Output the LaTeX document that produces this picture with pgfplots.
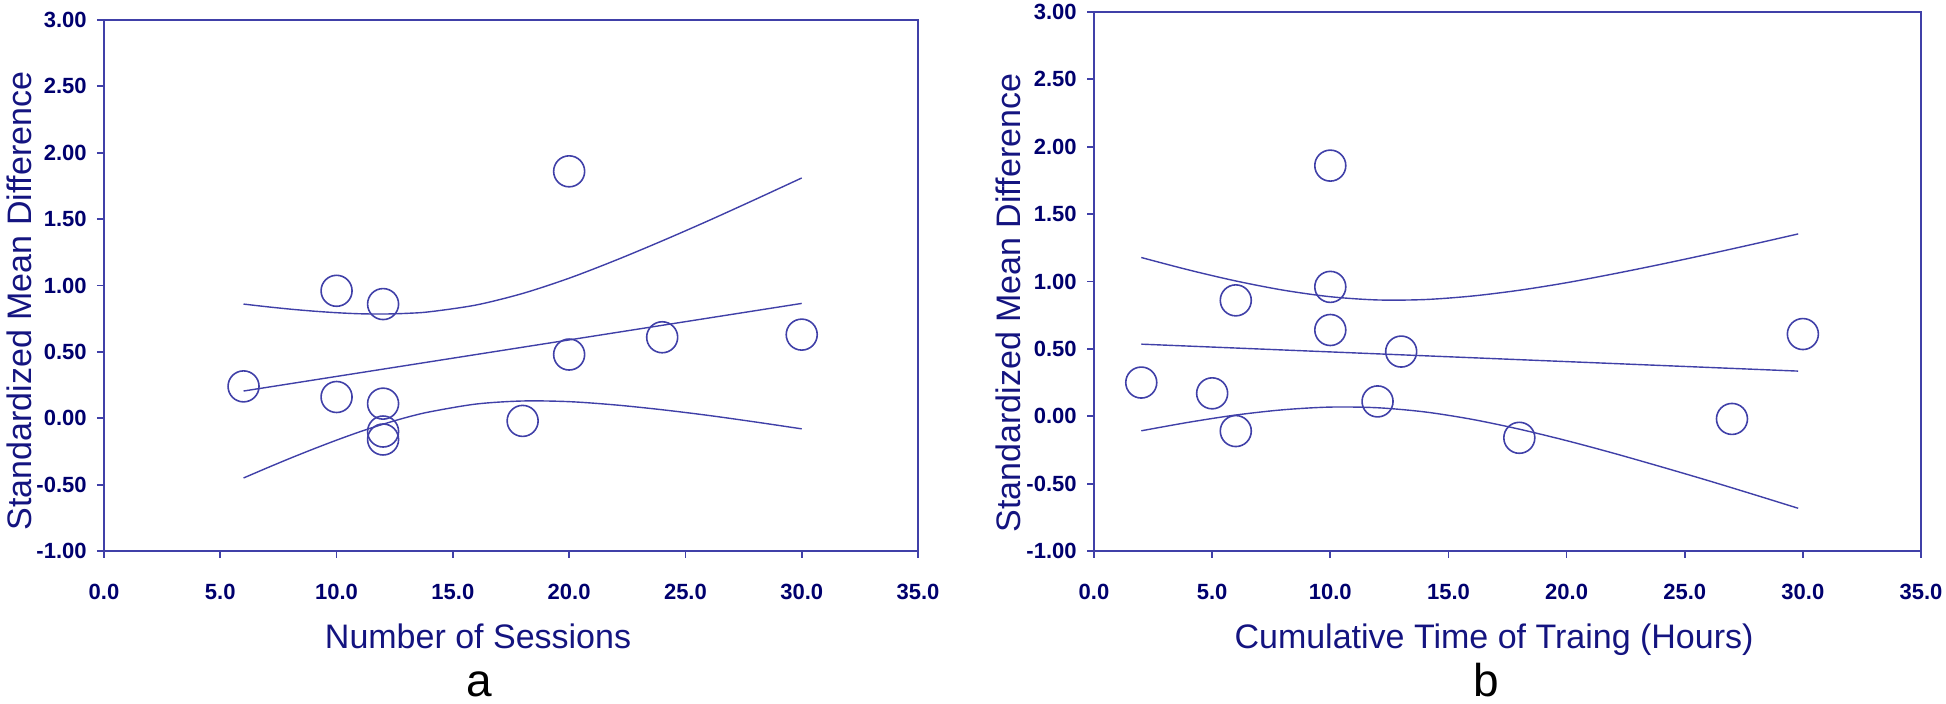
\documentclass[border=0pt]{standalone}
\usepackage{fontspec}
\setmainfont{Liberation Sans}
\usepackage{pgfplots}
\pgfplotsset{compat=1.18}
\definecolor{axcol}{RGB}{64,64,168}
\definecolor{tickcol}{RGB}{0,0,110}
\definecolor{labcol}{RGB}{20,20,128}
\begin{document}
\begin{tikzpicture}
\path[use as bounding box] (0,0) rectangle (973pt,352pt);
\pgfplotsset{myax/.style={
 scale only axis, anchor=south west,
 xmin=0,xmax=35,ymin=-1,ymax=3,
 xtick={0,5,10,15,20,25,30,35},
 xticklabels={0.0,5.0,10.0,15.0,20.0,25.0,30.0,35.0},
 ytick={-1,-0.5,0,0.5,1,1.5,2,2.5,3},
 yticklabels={-1.00,-0.50,0.00,0.50,1.00,1.50,2.00,2.50,3.00},
 xtick pos=bottom, ytick pos=left, tick align=outside, major tick length=3.5pt,
 axis line style={axcol, line width=0.9pt},
 tick style={axcol, line width=0.9pt},
 tick label style={font=\fontsize{11}{13}\selectfont\bfseries, text=tickcol},
 yticklabel style={inner sep=0pt, anchor=east, xshift=-5pt},
 xticklabel style={inner sep=0pt, anchor=north, yshift=-13pt},
 label style={font=\fontsize{17}{20}\selectfont, text=labcol},
 clip=false,
}}
% ---------- panel a ----------
\begin{axis}[myax, at={(52pt,76.5pt)}, width=407pt, height=265.5pt,
 xlabel={Number of Sessions}, ylabel={Standardized Mean Difference},
 xlabel style={at={(axis description cs:0.4595,-0.1827)}, anchor=base},
 ylabel style={at={(axis description cs:-0.1044,0.471)}, anchor=center}]
\addplot[axcol, line width=0.7pt] coordinates {
 (6,0.205) (30,0.865)};
\addplot[axcol, line width=0.7pt, smooth] coordinates {
 (6,0.860) (7,0.840) (8,0.822) (9,0.807) (10,0.795) (11,0.787) (12,0.785) (13,0.790)
 (14,0.802) (16,0.853) (18,0.940)
 (20,1.055) (22,1.190) (24,1.336) (26,1.489) (28,1.648) (30,1.810)};
\addplot[axcol, line width=0.7pt, smooth] coordinates {
 (6,-0.450) (7,-0.375) (8,-0.302) (9,-0.232) (10,-0.165) (11,-0.102) (12,-0.045) (13,0.006)
 (14,0.048) (16,0.107) (18,0.130)
 (20,0.125) (22,0.100) (24,0.064) (26,0.021) (28,-0.028) (30,-0.080)};
\addplot[only marks, mark=o, mark size=7.75pt, axcol, mark options={line width=0.8pt}] coordinates {
 (6,0.24) (10,0.96) (10,0.16) (12,0.86) (12,0.11) (12,-0.10) (12,-0.16)
 (18,-0.02) (20,1.86) (20,0.48) (24,0.61) (30,0.63)};
\end{axis}
% ---------- panel b ----------
\begin{axis}[myax, at={(547pt,76.5pt)}, width=413.5pt, height=269.5pt,
 xlabel={Cumulative Time of Traing (Hours)}, ylabel={Standardized Mean Difference},
 xlabel style={at={(axis description cs:0.4837,-0.1800)}, anchor=base},
 ylabel style={at={(axis description cs:-0.104,0.46)}, anchor=center}]
\addplot[axcol, line width=0.7pt] coordinates {
 (2,0.535) (29.8,0.335)};
\addplot[axcol, line width=0.7pt, smooth] coordinates {
 (2,1.178) (4,1.086) (6,1.004) (8,0.936) (10,0.887) (12,0.863) (14,0.866)
 (16,0.892) (18,0.935) (20,0.991) (22,1.057) (24,1.128) (26,1.203) (28,1.281) (29.8,1.353)};
\addplot[axcol, line width=0.7pt, smooth] coordinates {
 (2,-0.108) (4,-0.045) (6,0.009) (8,0.048) (10,0.068) (12,0.063) (14,0.032)
 (16,-0.023) (18,-0.096) (20,-0.181) (22,-0.275) (24,-0.375) (26,-0.478) (28,-0.585) (29.8,-0.683)};
\addplot[only marks, mark=o, mark size=7.75pt, axcol, mark options={line width=0.8pt}] coordinates {
 (2,0.25) (5,0.17) (6,0.86) (6,-0.11) (10,1.86) (10,0.96) (10,0.64)
 (12,0.11) (13,0.48) (18,-0.16) (27,-0.02) (30,0.61)};
\end{axis}
\node[anchor=base, font=\fontsize{23}{27}\selectfont] at (239.5pt,3.5pt) {a};
\node[anchor=base, font=\fontsize{23}{27}\selectfont] at (743pt,3.5pt) {b};
\end{tikzpicture}
\end{document}
